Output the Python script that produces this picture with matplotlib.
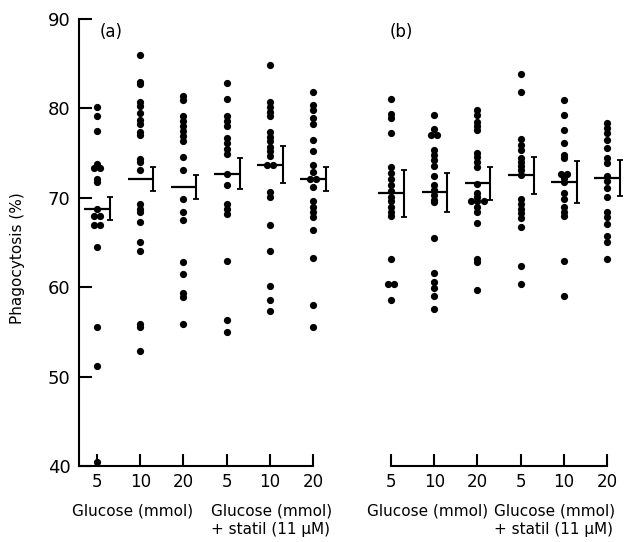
import matplotlib
matplotlib.use("Agg")
import matplotlib.pyplot as plt
import numpy as np
from collections import Counter

plt.rcParams['font.family'] = ['DejaVu Sans']

# ---------------- data ----------------
tick_labels = ["5", "10", "20", "5", "10", "20"]
group_label_1 = "Glucose (mmol)"
group_label_2 = "Glucose (mmol)\n+ statil (11 μM)"

a1 = [80.2, 79.2, 77.5, 73.8, 73.3, 73.3, 72.1, 71.8, 68.7, 68.0, 68.0, 67.0, 67.0, 64.5, 55.6, 51.2, 40.4]
a2 = [86.0, 83.0, 82.7, 80.75, 80.3, 79.5, 78.7, 78.3, 77.4, 77.0, 74.3, 74.0, 73.1, 69.3, 68.8, 68.4,
      67.3, 65.1, 64.0, 55.9, 55.6, 52.9]
a3 = [81.4, 80.9, 79.2, 78.6, 78.0, 77.5, 76.9, 76.4, 74.6, 73.1, 69.9, 68.4, 67.5, 62.8, 61.5, 59.4, 58.9, 55.9]
a4 = [82.8, 81.1, 79.2, 78.6, 78.0, 76.7, 76.1, 75.5, 74.9, 72.7, 71.4, 69.3, 68.7, 68.2, 62.9, 56.3, 55.0]
a5 = [84.9, 80.7, 80.2, 79.6, 79.2, 77.4, 76.8, 76.3, 75.7, 75.2, 74.7, 73.7, 73.7, 70.7, 70.1, 67.0,
      64.1, 60.1, 58.6, 57.3]
a6 = [81.8, 80.4, 79.8, 78.9, 78.3, 76.5, 75.2, 73.7, 72.9, 72.1, 72.1, 71.2, 69.6, 69.0, 68.4, 67.9,
      66.4, 63.3, 58.0, 55.5]

b1 = [81.1, 79.4, 78.9, 77.3, 73.4, 72.8, 72.1, 71.4, 70.8, 70.1, 69.6, 69.0, 68.4, 68.0, 63.1, 60.4, 60.4, 58.6]
b2 = [79.3, 77.7, 77.0, 77.0, 75.3, 74.8, 74.2, 73.6, 72.4, 71.4, 70.9, 70.3, 69.8, 69.5, 65.5, 61.6,
      60.6, 59.9, 59.0, 57.6]
b3 = [79.8, 79.3, 78.5, 78.0, 77.6, 75.0, 74.6, 74.0, 73.5, 71.5, 70.5, 70.1, 69.6, 69.6, 69.6, 69.0,
      68.4, 67.2, 63.2, 62.8, 59.7]
b4 = [83.8, 81.8, 76.6, 75.9, 75.3, 74.4, 74.0, 73.6, 73.1, 72.6, 69.9, 69.3, 68.8, 68.3, 67.7, 66.7, 62.4, 60.4]
b5 = [80.9, 79.3, 77.6, 76.1, 74.8, 74.5, 72.7, 72.7, 72.2, 71.8, 70.5, 69.9, 69.0, 68.4, 68.0, 62.9, 59.0]
b6 = [78.4, 77.8, 77.3, 76.5, 75.6, 74.4, 73.9, 72.4, 71.9, 71.1, 70.1, 68.4, 67.9, 67.1, 65.7, 65.1, 63.1]

means_a = [68.8, 72.1, 71.2, 72.7, 73.7, 72.1]
sem_a = [1.3, 1.3, 1.35, 1.7, 2.05, 1.35]
means_b = [70.5, 70.6, 71.6, 72.5, 71.8, 72.2]
sem_b = [2.65, 2.15, 1.85, 2.1, 2.35, 2.05]

groups_a = [a1, a2, a3, a4, a5, a6]
groups_b = [b1, b2, b3, b4, b5, b6]

# ---------------- figure ----------------
W, H = 626, 542
fig = plt.figure(figsize=(W / 100, H / 100), dpi=100)
fig.patch.set_facecolor("white")

pxu = 43.2          # pixels per category unit
y_bot, y_top = 466, 19
ax_h = (y_bot - y_top) / H
ax_b = (H - y_bot) / H

# panel a
a_left_px = 79
a_xlim = (-(97 - 79) / pxu, 5.5)
ax1 = fig.add_axes([a_left_px / W, ax_b, (a_xlim[1] - a_xlim[0]) * pxu / W, ax_h])
# panel b
b_xlim = (-0.5, 5.4)
b_left_px = 391 - 0.5 * pxu
ax2 = fig.add_axes([b_left_px / W, ax_b, (b_xlim[1] - b_xlim[0]) * pxu / W, ax_h])

FS = 11
LW = 1.5

def draw_panel(ax, groups, means, sems):
    for i, vals in enumerate(groups):
        cnt = Counter(vals)
        seen = Counter()
        xs = []
        for v in vals:
            n = cnt[v]
            k = seen[v]
            seen[v] += 1
            xs.append(i + (k - (n - 1) / 2) * 0.15)
        ax.plot(xs, vals, 'o', color='black', ms=5.2, mew=0, clip_on=False, zorder=3)
        # mean line
        ax.plot([i - 0.29, i + 0.3], [means[i], means[i]], color='black', lw=1.6,
                solid_capstyle='butt', clip_on=False, zorder=4)
        ax.errorbar([i + 0.3], [means[i]], yerr=[sems[i]], fmt='none', ecolor='black',
                    elinewidth=1.5, capsize=2.5, capthick=1.3, clip_on=False, zorder=4)
    ax.set_ylim(40, 90)
    ax.set_xticks(range(6))
    ax.set_xticklabels(tick_labels, fontsize=FS + 1)
    ax.tick_params(axis='x', direction='in', length=9, width=LW, pad=5)
    for s in ['top', 'right']:
        ax.spines[s].set_visible(False)
    ax.spines['bottom'].set_linewidth(LW)
    ax.patch.set_alpha(0)

draw_panel(ax1, groups_a, means_a, sem_a)
draw_panel(ax2, groups_b, means_b, sem_b)

ax1.set_xlim(*a_xlim)
ax1.spines['bottom'].set_bounds(a_xlim[0], 5)
ax1.spines['left'].set_linewidth(LW)
ax1.set_yticks([40, 50, 60, 70, 80, 90])
ax1.tick_params(axis='y', direction='in', length=9, width=LW, pad=6, labelsize=FS + 2)

ax2.set_xlim(*b_xlim)
ax2.spines['bottom'].set_bounds(0, 5)
ax2.spines['left'].set_visible(False)
ax2.set_yticks([])

# panel letters
ax1.text(0.06, 88.5, "(a)", fontsize=FS + 1, ha='left', va='center')
ax2.text(-0.03, 88.5, "(b)", fontsize=FS + 1, ha='left', va='center')

# group labels
tr1 = ax1.get_xaxis_transform()
tr2 = ax2.get_xaxis_transform()
ax1.text(-0.58, -0.085, group_label_1, transform=tr1, fontsize=FS, ha='left', va='top')
ax1.text(2.65, -0.085, group_label_2, transform=tr1, fontsize=FS, ha='left', va='top', linespacing=1.25)
ax2.text(-0.56, -0.085, group_label_1, transform=tr2, fontsize=FS, ha='left', va='top')
ax2.text(2.38, -0.085, group_label_2, transform=tr2, fontsize=FS, ha='left', va='top', linespacing=1.25)

# y label
fig.text(18 / W, 1 - 258 / H, "Phagocytosis (%)", rotation=90, fontsize=FS,
         ha='center', va='center')

fig.savefig("out.png", dpi=100, facecolor="white")
